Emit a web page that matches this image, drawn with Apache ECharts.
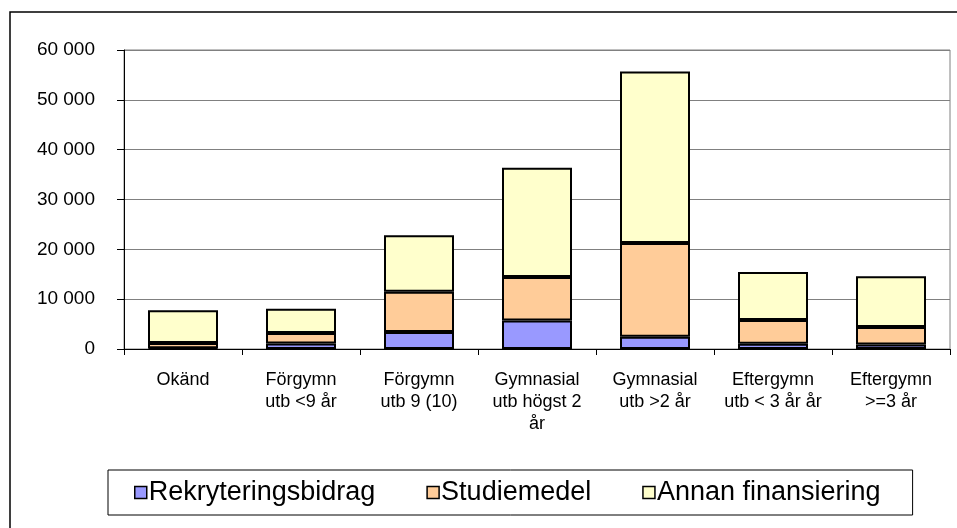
<!DOCTYPE html>
<html>
<head>
<meta charset="utf-8">
<script src="https://cdn.jsdelivr.net/npm/echarts@6/dist/echarts.min.js"></script>
<style>
html,body{margin:0;padding:0;background:#fff;}
#chart{width:957px;height:528px;}
</style>
</head>
<body>
<div id="chart"></div>
<script>
// kategorier (utbildningsnivå)
var categories = ['Okänd', 'Förgymn\nutb <9 år', 'Förgymn\nutb 9 (10)', 'Gymnasial\nutb högst 2\når', 'Gymnasial\nutb >2 år', 'Eftergymn\nutb < 3 år år', 'Eftergymn\n>=3 år'];
var rekrytering = [150, 1100, 3400, 5700, 2450, 1050, 900];
var studiemedel = [1050, 2100, 8100, 8750, 18800, 4750, 3500];
var annan = [6600, 4900, 11350, 21900, 34450, 9650, 10200];
var seriesNames = ['Rekryteringsbidrag', 'Studiemedel', 'Annan finansiering'];
var yTicks = [0, 10000, 20000, 30000, 40000, 50000, 60000];

function fmt(v){
	// tusentalsavgränsare med mellanslag
	return String(v).replace(/\B(?=(\d{3})+(?!\d))/g, ' ');
}

function bar(name, data, color){
	return {
		name: name,
		type: 'bar',
		stack: 'total',
		barWidth: 70,
		itemStyle: {color: color, borderColor: '#000', borderWidth: 2},
		data: data
	};
}

var option = {
	animation: false,
	textStyle: {fontFamily: 'Liberation Sans, Arial, sans-serif', color: '#000'},
	graphic: [{
		type: 'rect',
		shape: {x: 10, y: 12, width: 1000, height: 600},
		style: {fill: 'none', stroke: '#000', lineWidth: 1.5},
		silent: true
	}],
	grid: {
		left: 124, right: 7, top: 50, bottom: 179,
		show: true, borderColor: '#808080', borderWidth: 1
	},
	legend: {
		data: seriesNames,
		icon: 'rect',
		left: 108, top: 470,
		padding: [9, 32, 9, 26],
		itemGap: 51,
		itemWidth: 12, itemHeight: 12,
		itemStyle: {borderWidth: 1.5, borderColor: '#000'},
		borderColor: '#000', borderWidth: 1,
		textStyle: {fontSize: 27, color: '#000', padding: [0, 0, 0, -3]}
	},
	xAxis: {
		type: 'category',
		data: categories,
		axisLine: {lineStyle: {color: '#000', width: 1}},
		axisTick: {show: true, length: 6, lineStyle: {color: '#000'}},
		axisLabel: {interval: 0, fontSize: 18, lineHeight: 22, margin: 20, color: '#000'}
	},
	yAxis: {
		type: 'value',
		min: yTicks[0], max: yTicks[yTicks.length - 1], interval: 10000,
		axisLine: {show: true, lineStyle: {color: '#000', width: 1}},
		axisTick: {show: true, length: 7, lineStyle: {color: '#000'}},
		splitLine: {lineStyle: {color: '#808080', width: 1}},
		axisLabel: {fontSize: 19, margin: 29, color: '#000', formatter: fmt}
	},
	series: [
		bar(seriesNames[0], rekrytering, '#9999FF'),
		bar(seriesNames[1], studiemedel, '#FFCC99'),
		bar(seriesNames[2], annan, '#FFFFCC')
	]
};

var myChart = echarts.init(document.getElementById('chart'));
myChart.setOption(option);
</script>
</body>
</html>
